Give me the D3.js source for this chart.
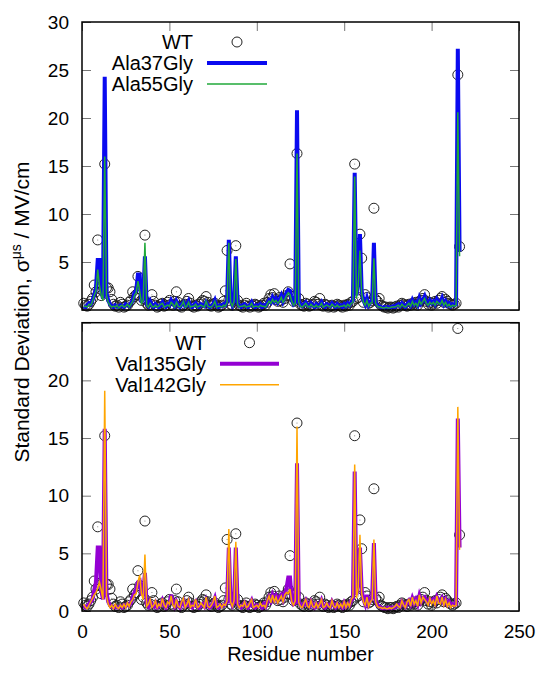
<!DOCTYPE html>
<html>
  <head>
    <meta charset="utf-8">
    <script src="https://d3js.org/d3.v7.min.js" charset="utf-8"></script>
    <style>
      body { margin: 0; background: #fff; }
      text { font-family: "Liberation Sans", Arial, sans-serif; }
    </style>
  </head>
  <body>
    <script type="text/javascript">

// residue numbers start at 1, one value per residue
var firstResidue = 1;

var wt = [
  0.7,0.5,0.4,0.6,0.9,1.2,2.6,1.9,7.3,2.2,1.5,2.0,15.2,2.3,2.3,1.9,1.1,0.6,0.4,0.5,
  0.3,0.8,0.6,0.3,0.4,0.5,0.8,1.0,1.9,1.4,1.6,3.5,2.2,1.0,1.2,7.8,0.7,0.5,0.6,1.6,
  0.9,0.5,0.3,0.4,0.6,0.7,0.4,0.5,0.8,1.0,0.6,0.5,0.9,1.9,0.8,0.4,0.3,0.5,0.6,0.9,
  1.2,0.7,0.4,0.3,0.5,0.4,0.6,0.8,1.0,0.9,1.4,0.8,0.5,0.4,0.6,0.7,0.5,0.3,0.4,0.5,
  0.9,2.0,6.2,1.0,0.6,0.5,1.2,6.7,1.0,0.5,0.4,0.3,0.5,0.7,0.4,0.3,0.5,0.4,0.6,0.5,
  0.3,0.4,0.5,0.7,0.5,0.8,1.2,1.6,1.3,1.7,1.1,0.9,1.3,1.0,0.8,1.2,1.5,1.9,4.8,1.4,
  0.9,1.5,16.3,1.2,0.6,0.5,0.4,0.7,0.6,0.4,0.5,0.6,0.9,0.8,0.6,1.2,0.5,0.4,0.6,0.5,
  0.3,0.4,0.5,0.3,0.4,0.6,0.5,0.4,0.3,0.5,0.4,0.6,0.5,0.8,0.9,15.2,1.2,1.3,7.9,5.4,
  0.8,1.6,1.3,0.7,0.8,1.0,10.6,1.1,0.9,1.2,0.5,0.4,0.3,0.3,0.2,0.3,0.3,0.2,0.3,0.4,
  0.3,0.5,0.7,0.6,0.5,0.4,0.6,0.5,0.7,0.6,0.8,0.5,0.9,1.0,1.2,1.6,0.9,0.6,0.8,0.5,
  0.7,0.9,0.7,1.0,1.2,1.4,0.8,1.1,0.9,0.7,0.6,0.5,0.6,0.7,24.5,6.6
];

var ala37gly = [
  0.4,0.3,0.5,0.7,0.6,1.0,1.6,2.3,5.2,5.2,2.0,1.2,24.3,1.8,1.0,0.6,0.4,0.3,0.5,0.4,
  0.3,0.5,0.4,0.3,0.6,0.5,0.4,0.7,1.0,1.8,2.0,3.7,3.7,0.8,1.2,5.6,0.6,0.4,0.9,0.5,
  0.3,0.6,0.4,0.3,0.5,0.8,0.4,0.3,0.6,0.5,1.0,0.7,0.4,0.9,0.5,0.3,0.6,0.8,0.4,0.5,
  0.9,0.4,0.3,0.5,0.7,0.4,0.3,0.6,0.5,0.4,0.8,0.5,0.3,0.4,0.6,1.0,0.4,0.3,0.5,0.4,
  0.6,0.5,1.0,7.3,1.0,0.5,1.0,5.6,0.8,0.4,0.3,0.5,0.6,0.4,0.3,0.5,0.8,0.4,0.3,0.5,
  0.4,0.6,0.3,0.5,0.4,0.7,1.0,0.8,1.3,0.9,1.2,0.8,1.1,1.5,0.9,1.3,1.8,2.1,2.0,1.0,
  0.6,0.8,20.8,0.9,0.5,0.4,0.6,0.8,0.5,0.4,0.7,0.5,0.3,0.6,0.4,0.5,0.8,0.4,0.3,0.6,
  0.5,0.4,0.7,0.5,0.3,0.6,0.4,0.5,0.3,0.6,0.4,0.7,0.5,0.8,1.0,14.3,1.5,3.0,7.9,2.0,
  1.0,0.6,1.2,0.5,0.8,1.0,7.0,0.8,0.5,0.4,0.3,0.2,0.3,0.2,0.3,0.2,0.3,0.4,0.3,0.5,
  0.6,0.4,0.7,0.5,0.3,0.6,0.8,0.5,1.0,0.6,0.8,0.5,1.2,0.7,1.0,1.4,0.8,0.6,1.0,0.7,
  0.9,0.6,1.1,0.8,0.7,1.2,0.6,0.9,0.5,0.7,0.4,0.6,0.5,0.6,27.2,6.1
];

var ala55gly = [
  0.3,0.4,0.3,0.6,0.5,0.9,1.5,2.0,4.2,2.5,1.5,1.0,16.0,1.5,0.8,0.5,0.3,0.4,0.3,0.5,
  0.2,0.4,0.5,0.3,0.4,0.6,0.3,0.6,0.9,1.5,1.8,3.0,2.0,0.7,1.0,7.0,0.5,0.3,0.7,0.4,
  0.3,0.5,0.3,0.4,0.6,0.7,0.3,0.4,0.5,0.4,0.8,0.6,0.3,0.8,0.4,0.3,0.5,0.9,0.3,0.4,
  0.8,0.3,0.4,0.4,0.6,0.3,0.4,0.5,0.4,0.3,0.9,0.4,0.3,0.3,0.5,0.9,0.3,0.4,0.4,0.3,
  0.5,0.4,0.8,7.0,0.8,0.4,0.9,5.3,0.6,0.3,0.4,0.4,0.5,0.3,0.4,0.4,0.7,0.3,0.4,0.4,
  0.3,0.5,0.4,0.4,0.3,0.6,0.9,0.7,1.1,0.8,1.0,0.7,0.9,1.3,0.8,1.1,1.5,1.8,1.6,0.9,
  0.5,0.7,16.3,0.8,0.4,0.3,0.5,0.7,0.4,0.3,0.6,0.4,0.3,0.5,0.3,0.4,0.7,0.3,0.4,0.5,
  0.4,0.3,0.6,0.4,0.3,0.5,0.3,0.4,0.4,0.5,0.3,0.6,0.4,0.7,0.8,13.9,1.2,2.5,6.2,1.7,
  0.8,0.5,1.0,0.4,0.7,0.8,5.4,0.7,0.4,0.3,0.3,0.2,0.2,0.3,0.2,0.2,0.3,0.3,0.3,0.4,
  0.5,0.3,0.6,0.4,0.3,0.5,0.7,0.4,0.9,0.5,0.7,0.4,1.0,0.6,0.9,1.2,0.7,0.5,0.8,0.6,
  0.8,0.5,0.9,0.7,0.6,1.0,0.5,0.8,0.4,0.6,0.3,0.5,0.4,0.5,20.6,5.6
];

var val135gly = [
  0.5,0.3,0.4,0.6,0.8,1.0,1.8,2.5,5.5,5.5,1.8,1.0,15.8,1.6,0.8,0.5,0.4,0.3,0.4,0.3,
  0.3,0.4,0.3,0.5,0.4,0.6,0.5,0.7,1.2,1.6,1.9,2.5,2.6,1.5,1.5,3.3,0.6,0.4,0.8,0.5,
  0.4,0.7,0.3,0.4,0.5,0.9,0.5,0.3,0.6,0.7,1.4,0.8,0.4,0.8,0.5,0.3,0.7,0.9,0.4,0.5,
  0.8,0.4,0.3,0.6,0.8,0.4,0.3,0.5,0.6,0.4,0.9,0.5,0.3,0.4,0.7,1.1,0.4,0.3,0.5,0.4,
  0.5,0.6,0.8,5.5,0.9,0.5,0.8,5.5,0.7,0.4,0.3,0.5,0.7,0.4,0.3,0.6,0.9,0.4,0.3,0.5,
  0.4,0.5,0.3,0.6,0.4,0.8,1.2,0.9,1.4,1.0,1.3,0.9,1.2,1.4,1.0,1.5,2.0,2.9,2.9,1.0,
  0.6,0.7,12.8,0.8,0.5,0.4,0.6,0.9,0.5,0.4,0.8,0.5,0.3,0.6,0.4,0.5,0.9,0.4,0.3,0.6,
  0.5,0.4,0.8,0.5,0.3,0.6,0.4,0.5,0.3,0.7,0.4,0.6,0.5,0.9,1.1,12.1,1.4,2.5,5.5,1.8,
  1.0,0.6,1.4,0.6,0.9,1.2,5.9,0.9,0.5,0.4,0.3,0.2,0.2,0.2,0.3,0.2,0.3,0.3,0.3,0.5,
  0.5,0.4,0.8,0.6,0.4,0.7,0.9,0.6,1.1,0.7,1.0,0.6,1.3,0.8,1.1,1.2,0.9,0.7,1.0,0.8,
  1.0,0.7,1.2,0.9,0.8,1.1,0.7,1.0,0.6,0.8,0.5,0.6,0.5,0.6,16.7,5.5
];

var val142gly = [
  0.6,0.3,0.2,0.5,0.8,1.1,1.4,1.6,2.0,2.5,1.8,1.0,19.1,1.3,0.6,0.3,0.5,0.2,0.6,0.3,
  0.2,0.5,0.3,0.6,0.3,0.7,0.4,0.8,1.0,1.4,1.5,2.5,3.1,1.5,1.0,4.9,0.4,0.6,1.0,0.3,
  0.5,0.9,0.3,0.6,0.4,1.1,0.5,0.3,0.8,0.6,1.3,0.5,0.3,1.0,0.4,0.3,0.8,1.1,0.3,0.6,
  1.0,0.3,0.5,0.4,1.0,0.3,0.4,0.7,0.5,0.3,1.2,0.4,0.3,0.5,0.8,1.3,0.3,0.4,0.6,0.3,
  0.6,0.5,0.9,7.1,0.8,0.4,0.9,6.0,0.6,0.3,0.5,0.4,0.8,0.3,0.4,0.7,1.0,0.3,0.4,0.5,
  0.3,0.7,0.4,0.5,0.3,0.9,1.3,0.7,1.4,0.8,1.2,0.7,1.0,1.3,0.8,1.4,1.6,1.5,1.9,0.8,
  0.5,0.9,16.0,0.7,0.4,0.3,0.7,1.0,0.4,0.3,0.9,0.4,0.3,0.7,0.3,0.6,1.0,0.3,0.4,0.7,
  0.4,0.3,0.9,0.4,0.3,0.7,0.3,0.6,0.3,0.8,0.3,0.7,0.4,1.0,1.2,12.7,1.1,2.0,6.6,1.5,
  0.8,0.5,1.2,0.4,0.8,1.0,6.2,0.8,0.4,0.3,0.3,0.2,0.3,0.2,0.2,0.3,0.2,0.3,0.4,0.6,
  0.4,0.3,0.9,0.5,0.3,0.8,1.0,0.4,1.2,0.6,0.9,0.4,1.4,0.7,1.2,1.0,0.8,0.5,1.1,0.6,
  0.9,0.5,1.3,0.7,0.6,1.2,0.5,1.0,0.4,0.7,0.3,0.5,0.4,0.5,17.7,5.3
];

var xTicks = [0, 50, 100, 150, 200, 250];
var topYTicks = [0, 5, 10, 15, 20, 25, 30];
var topYLabels = [5, 10, 15, 20, 25, 30];
var botYTicks = [0, 5, 10, 15, 20, 25];
var botYLabels = [0, 5, 10, 15, 20];

var w = 540;
var h = 673;

var svg = d3.select("body")
  .append("svg")
  .attr("width", w)
  .attr("height", h);

var x = d3.scaleLinear().domain([0, 250]).range([82, 519]);

var panels = [
  { top: 22, bottom: 310, max: 30, ticks: topYTicks, labels: topYLabels, xLabels: false,
    series: [
      { name: "Ala37Gly", values: ala37gly, color: "#0a0af0", width: 4 },
      { name: "Ala55Gly", values: ala55gly, color: "#20a83a", width: 1.5 }
    ] },
  { top: 322.7, bottom: 611, max: 25, ticks: botYTicks, labels: botYLabels, xLabels: true,
    series: [
      { name: "Val135Gly", values: val135gly, color: "#9400d3", width: 4 },
      { name: "Val142Gly", values: val142gly, color: "#ffa500", width: 1.5 }
    ] }
];

panels.forEach(function(p) {
  var y = d3.scaleLinear().domain([0, p.max]).range([p.bottom, p.top]);
  var g = svg.append("g");

  // inward ticks on all four sides
  var tickStyle = function(sel) {
    sel.select(".domain").remove();
    sel.selectAll(".tick line").attr("stroke", "#777").attr("stroke-width", 1);
    sel.selectAll(".tick text").attr("fill", "#000").style("font-size", "19px")
      .style("font-family", "'Liberation Sans', Arial, sans-serif");
  };

  g.append("g")
    .attr("transform", "translate(" + x(0) + ",0)")
    .call(d3.axisLeft(y).tickValues(p.ticks).tickSize(-9).tickPadding(13)
      .tickFormat(function(d) { return p.labels.indexOf(d) >= 0 ? d : ""; }))
    .call(tickStyle);

  g.append("g")
    .attr("transform", "translate(" + x(250) + ",0)")
    .call(d3.axisRight(y).tickValues(p.ticks).tickSize(-9).tickFormat(""))
    .call(tickStyle);

  g.append("g")
    .attr("transform", "translate(0," + p.top + ")")
    .call(d3.axisTop(x).tickValues(xTicks).tickSize(-9).tickFormat(""))
    .call(tickStyle);

  g.append("g")
    .attr("transform", "translate(0," + p.bottom + ")")
    .call(d3.axisBottom(x).tickValues(xTicks).tickSize(-9).tickPadding(14)
      .tickFormat(p.xLabels ? d3.format("d") : ""))
    .call(tickStyle);

  // WT circles
  var pts = g.append("g");
  pts.selectAll("circle.wt")
    .data(wt)
    .enter()
    .append("circle")
    .attr("class", "wt")
    .attr("cx", function(d, i) { return x(i + firstResidue); })
    .attr("cy", function(d) { return y(d); })
    .attr("r", 5)
    .attr("fill", "none")
    .attr("stroke", "#222")
    .attr("stroke-width", 1);
  pts.selectAll("circle.dot")
    .data(wt)
    .enter()
    .append("circle")
    .attr("class", "dot")
    .attr("cx", function(d, i) { return x(i + firstResidue); })
    .attr("cy", function(d) { return y(d); })
    .attr("r", 0.5)
    .attr("fill", "#666");

  var line = d3.line()
    .x(function(d, i) { return x(i + firstResidue); })
    .y(function(d) { return y(d); });

  p.series.forEach(function(s) {
    g.append("path")
      .datum(s.values)
      .attr("d", line)
      .attr("fill", "none")
      .attr("stroke", s.color)
      .attr("stroke-width", s.width);
  });

  // frame
  g.append("rect")
    .attr("x", x(0))
    .attr("y", p.top)
    .attr("width", x(250) - x(0))
    .attr("height", p.bottom - p.top)
    .attr("fill", "none")
    .attr("stroke", "#000")
    .attr("stroke-width", 1.5);

  // legend
  var lg = g.append("g").attr("transform", "translate(0," + (p.top + 20) + ")");
  var textRight = p.xLabels ? 206 : 193;
  var lineStart = p.xLabels ? 220 : 207;
  var lineEnd = p.xLabels ? 279 : 267;
  var names = ["WT"].concat(p.series.map(function(s) { return s.name; }));
  lg.selectAll("text")
    .data(names)
    .enter()
    .append("text")
    .attr("x", textRight)
    .attr("y", function(d, i) { return i * 21; })
    .attr("dy", "0.36em")
    .attr("text-anchor", "end")
    .style("font-size", "20px")
    .text(function(d) { return d; });
  lg.append("circle")
    .attr("cx", (lineStart + lineEnd) / 2)
    .attr("cy", 0)
    .attr("r", 5)
    .attr("fill", "none")
    .attr("stroke", "#222");
  lg.selectAll("line")
    .data(p.series)
    .enter()
    .append("line")
    .attr("x1", lineStart)
    .attr("x2", lineEnd)
    .attr("y1", function(d, i) { return (i + 1) * 21; })
    .attr("y2", function(d, i) { return (i + 1) * 21; })
    .attr("stroke", function(d) { return d.color; })
    .attr("stroke-width", function(d) { return d.width; });
});

// axis titles
svg.append("text")
  .attr("x", (x(0) + x(250)) / 2)
  .attr("y", 661)
  .attr("text-anchor", "middle")
  .style("font-size", "20px")
  .text("Residue number");

var yt = svg.append("text")
  .attr("transform", "translate(29,312) rotate(-90)")
  .attr("text-anchor", "middle")
  .style("font-size", "21px");
yt.append("tspan").text("Standard Deviation, σ");
yt.append("tspan").attr("dy", -8).style("font-size", "14px").text("μs");
yt.append("tspan").attr("dy", 8).text(" / MV/cm");

    </script>
  </body>
</html>
